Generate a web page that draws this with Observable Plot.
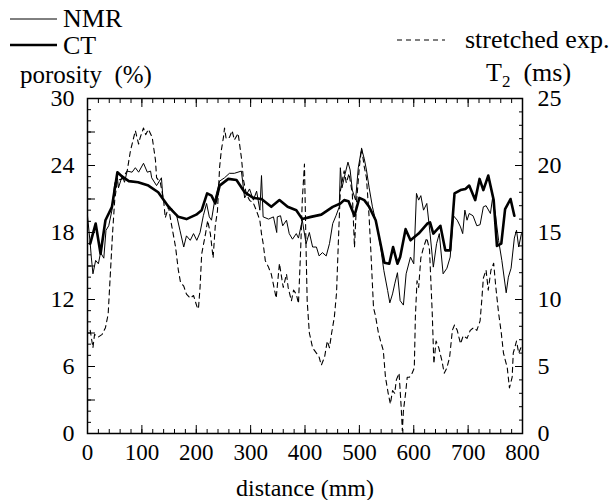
<!DOCTYPE html>
<html>
<head>
<meta charset="utf-8">
<script src="https://cdn.jsdelivr.net/npm/d3@7"></script>
<script src="https://cdn.jsdelivr.net/npm/@observablehq/plot@0.6"></script>
<style>
  html, body { margin: 0; padding: 0; background: #fff; }
  #wrap { position: relative; width: 611px; height: 500px; font-family: "Liberation Serif", "Times New Roman", Times, "DejaVu Serif", serif; color: #000; }
  #wrap svg text { font-family: "Liberation Serif", "Times New Roman", Times, "DejaVu Serif", serif; }
  .lbl { position: absolute; white-space: nowrap; font-family: "Liberation Serif", "Times New Roman", Times, "DejaVu Serif", serif; }
  .leg { position: absolute; }
</style>
</head>
<body>
<div id="wrap"></div>
<script>
// ---- data ----
const nmrDist = [0,5,7,10,15,20,24,30,34,39,45,50,55,57,64,68,73,82,88,94,103,110,116,118,127,136,139,145,154,164,170,177,182,189,195,201,207,213,219,224,228,234,243,252,261,270,283,289,298,305,311,317,320,323,333,342,348,349,355,359,366,371,377,384,388,395,402,408,414,421,426,432,439,445,451,457,463,465,468,474,479,483,487,493,498,504,509,513,518,524,533,539,545,552,556,561,565,570,575,581,586,594,600,605,609,613,618,624,630,636,642,647,654,661,667,673,680,686,690,694,698,702,709,716,722,728,733,741,745,750,756,762,770,774,779,785,789,793,798];
const nmrPorosity = [19.5,17.0,15.8,14.3,15.5,15.2,16.2,15.7,18.2,18.6,20.0,22.4,22.9,22.0,23.1,22.5,23.5,23.4,23.8,23.4,24.2,23.4,23.5,22.9,22.2,22.9,20.9,20.6,20.2,19.5,18.2,16.7,17.7,17.3,17.9,17.3,18.0,19.5,20.6,19.4,19.1,20.9,22.6,22.9,23.3,23.3,23.5,21.1,21.9,20.9,21.7,20.0,23.1,19.4,19.2,19.4,18.0,19.4,19.5,18.6,19.1,17.9,17.4,17.9,17.5,19.1,17.0,18.0,16.7,16.7,15.9,16.2,15.9,17.0,18.8,19.5,20.3,23.8,22.0,23.3,24.3,23.6,21.8,20.9,23.8,25.5,24.6,23.6,22.0,20.3,18.4,16.7,14.6,12.8,11.7,12.5,13.4,14.4,11.9,11.5,14.3,15.8,15.2,21.5,20.9,21.3,20.0,20.6,17.9,14.9,17.0,17.9,14.3,14.8,15.8,19.5,19.1,18.5,17.9,20.0,19.1,19.7,19.5,18.6,18.7,20.3,20.4,19.7,21.1,19.7,17.3,15.5,12.6,14.0,14.8,17.5,18.2,16.7,17.9];

const ctDist = [5,15,24,33,45,55,64,76,93,112,130,149,167,182,200,210,220,228,235,243,259,274,289,305,320,338,353,368,384,395,411,430,451,465,472,480,491,500,509,518,530,546,555,562,570,575,585,594,609,625,630,636,649,658,667,675,686,695,702,713,721,728,737,747,753,761,768,778,785];
const ctPorosity = [17.0,18.8,16.1,19.1,20.3,23.4,23.0,22.6,22.5,22.2,21.6,20.3,19.4,19.2,19.6,20.0,21.5,21.3,20.6,22.2,22.8,22.7,21.6,21.1,21.0,20.3,20.9,20.3,20.0,19.2,19.4,19.6,20.3,20.6,20.9,20.8,19.5,21.1,20.9,20.3,19.1,15.3,15.2,16.7,15.2,15.8,18.3,17.3,17.9,18.8,18.9,17.9,18.6,16.4,16.4,21.5,21.8,21.9,22.2,20.9,22.8,21.8,23.1,20.9,16.8,17.0,20.1,21.0,19.5];

const t2Dist = [5,10,13,20,27,33,38,42,46,50,55,64,73,79,85,88,94,97,103,107,112,119,125,127,134,140,143,149,154,162,167,171,177,182,189,195,201,204,207,210,217,221,226,231,235,239,243,246,250,252,255,261,266,270,277,283,287,292,298,305,311,317,320,323,327,333,338,344,347,350,353,356,360,366,369,375,379,384,388,392,395,399,402,404,408,414,421,426,430,436,441,445,449,454,458,462,465,472,476,481,487,491,495,500,504,509,513,518,521,526,530,535,539,544,548,553,557,561,565,568,573,577,579,581,585,588,592,597,601,603,606,609,613,618,624,629,634,637,641,646,652,656,661,666,671,675,680,686,691,698,704,710,716,722,725,728,733,737,742,747,751,756,761,765,772,776,781,783,789,793,797];
const t2Values = [7.7,6.4,7.4,7.2,7.4,7.9,8.9,11.9,14.9,17.4,18.9,19.0,19.6,21.1,22.1,22.6,21.6,22.1,22.8,22.3,22.7,22.1,20.4,19.1,18.7,17.4,16.1,16.9,15.7,13.9,12.2,11.3,11.0,10.4,10.1,10.3,9.5,9.3,10.9,13.4,14.9,15.9,14.9,13.1,15.5,16.6,19.9,21.1,22.1,22.8,22.0,22.1,22.6,21.9,22.4,20.6,18.9,17.9,17.4,17.2,16.6,15.9,14.9,14.2,12.9,12.4,11.9,10.7,10.1,11.4,12.7,11.9,10.9,11.9,10.9,9.9,10.7,10.4,9.7,13.7,17.4,20.1,13.7,9.9,7.5,6.4,6.0,5.7,5.1,5.7,6.9,6.4,7.5,8.7,10.5,15.0,18.1,19.6,18.7,19.4,17.9,13.9,17.4,19.9,21.3,19.9,19.1,16.1,13.7,9.4,8.7,7.5,6.9,6.2,4.2,3.0,2.2,3.2,3.0,4.0,4.5,1.9,0.2,1.7,3.0,4.2,4.2,4.5,4.9,8.7,11.4,10.9,13.1,13.9,14.6,13.7,9.0,5.2,6.9,6.4,5.4,4.5,4.9,5.7,7.7,8.1,7.7,6.7,7.3,7.1,7.7,7.9,7.7,8.4,9.9,11.6,12.2,10.7,12.2,12.7,10.9,9.0,7.5,6.0,4.9,3.4,4.2,6.0,6.9,6.0,6.4];

const xTickLabels = [0,100,200,300,400,500,600,700,800];
const leftTickLabels = [0,6,12,18,24,30];
const rightTickLabels = [0,5,10,15,20,25];

// ---- build tables ----
const nmr = nmrDist.map((d, i) => ({d, p: nmrPorosity[i]}));
const ct = ctDist.map((d, i) => ({d, p: ctPorosity[i]}));
const t2 = t2Dist.map((d, i) => ({d, t: t2Values[i]}));
const k = 30 / 25; // right-axis (T2, ms) to left-axis (porosity, %) units
const blank = () => "";
const serif = "'Liberation Serif', 'Times New Roman', Times, 'DejaVu Serif', serif";

const plot = Plot.plot({
  width: 611,
  height: 500,
  marginLeft: 87,
  marginRight: 89,
  marginTop: 98,
  marginBottom: 67,
  style: {fontFamily: serif, fontSize: "23px", background: "white", color: "black", overflow: "visible"},
  x: {domain: [0, 800]},
  y: {domain: [0, 30]},
  marks: [
    // minor / major inward ticks
    Plot.axisX({anchor: "bottom", ticks: d3.range(0, 801, 20), tickSize: -4, tickFormat: blank, label: null}),
    Plot.axisX({anchor: "bottom", ticks: xTickLabels, tickSize: -8, tickFormat: blank, label: null}),
    Plot.axisX({anchor: "top", ticks: d3.range(0, 801, 20), tickSize: -4, tickFormat: blank, label: null}),
    Plot.axisX({anchor: "top", ticks: xTickLabels, tickSize: -8, tickFormat: blank, label: null}),
    Plot.axisY({anchor: "left", ticks: d3.range(0, 31, 1), tickSize: -4, tickFormat: blank, label: null}),
    Plot.axisY({anchor: "left", ticks: d3.range(0, 31, 3), tickSize: -8, tickFormat: blank, label: null}),
    Plot.axisY({anchor: "right", ticks: d3.range(0, 26, 1).map(v => v * k), tickSize: -4, tickFormat: blank, label: null}),
    Plot.axisY({anchor: "right", ticks: rightTickLabels.map(v => v * k), tickSize: -8, tickFormat: blank, label: null}),
    // labels
    Plot.axisX({anchor: "bottom", ticks: xTickLabels, tickSize: 0, tickPadding: 10, label: null, fontFamily: serif, fontSize: 23}),
    Plot.axisY({anchor: "left", ticks: leftTickLabels, tickSize: 0, tickPadding: 13, label: null, fontFamily: serif, fontSize: 24}),
    Plot.axisY({anchor: "right", ticks: rightTickLabels.map(v => v * k), tickSize: 0, tickPadding: 15, tickFormat: v => String(Math.round(v / k)), label: null, fontFamily: serif, fontSize: 24}),
    // data
    Plot.line(t2, {x: "d", y: d => d.t * k, stroke: "black", strokeWidth: 1.1, strokeDasharray: "5,4"}),
    Plot.line(nmr, {x: "d", y: "p", stroke: "black", strokeWidth: 1}),
    Plot.line(ct, {x: "d", y: "p", stroke: "black", strokeWidth: 2.6, strokeLinejoin: "round"}),
    Plot.frame({stroke: "black", strokeWidth: 1.5})
  ]
});

const wrap = document.getElementById("wrap");
wrap.appendChild(plot);

function addLabel(html, left, center, size, extra) {
  const el = document.createElement("div");
  el.className = "lbl";
  el.innerHTML = html;
  el.style.left = left + "px";
  el.style.fontSize = size + "px";
  el.style.lineHeight = Math.round(size * 0.9) + "px";
  el.style.top = (center - 0.45 * size) + "px";
  el.style.fontFamily = serif;
  if (extra) Object.assign(el.style, extra);
  wrap.appendChild(el);
  return el;
}
function addLegendLine(x1, x2, y, w, dash) {
  const ns = "http://www.w3.org/2000/svg";
  const svg = document.createElementNS(ns, "svg");
  svg.setAttribute("class", "leg");
  svg.setAttribute("width", x2 - x1 + 2);
  svg.setAttribute("height", 8);
  svg.style.left = (x1 - 1) + "px";
  svg.style.top = (y - 4) + "px";
  const ln = document.createElementNS(ns, "line");
  ln.setAttribute("x1", 1); ln.setAttribute("x2", x2 - x1 + 1);
  ln.setAttribute("y1", 4); ln.setAttribute("y2", 4);
  ln.setAttribute("stroke", "black");
  ln.setAttribute("stroke-width", w);
  if (dash) ln.setAttribute("stroke-dasharray", dash);
  svg.appendChild(ln);
  wrap.appendChild(svg);
}

addLegendLine(10, 57, 19, 1, null);
addLabel("NMR", 63, 19, 26);
addLegendLine(10, 57, 45, 2.6, null);
addLabel("CT", 63, 46, 26);
addLegendLine(397, 445, 40, 1.1, "5,4");
addLabel("stretched exp.", 465, 40, 26);
addLabel("porosity&nbsp;&nbsp;(%)", 20, 74, 25);
addLabel("T<sub style=\"font-size:17px;line-height:0;vertical-align:-6px\">2</sub>&nbsp;&nbsp;(ms)", 486, 73, 26);
addLabel("distance (mm)", 305, 488, 24, {transform: "translateX(-50%)"});
</script>
</body>
</html>
